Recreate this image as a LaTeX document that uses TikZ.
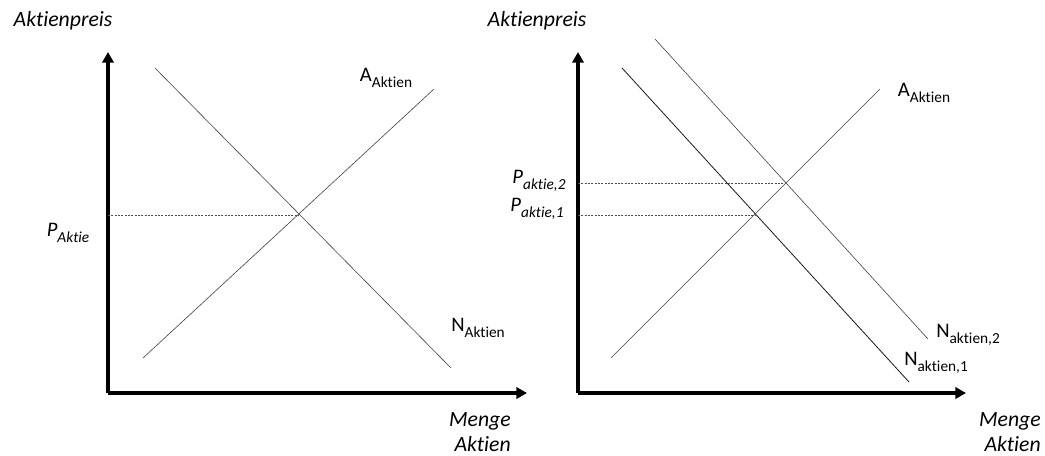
\documentclass[tikz,border=0pt]{standalone}
\usepackage{fontspec}
\setmainfont{Carlito}[Ligatures=NoCommon]
\usetikzlibrary{arrows.meta}
\newcommand\sbsc[1]{\raisebox{-0.28em}{\fontsize{11.5}{12}\selectfont #1}}
\begin{document}
\begin{tikzpicture}[x=0.75pt,y=-0.75pt,
  axisline/.style={line width=2.8pt,-{Triangle[length=8pt,width=8.5pt]}},
  curve/.style={line width=0.45pt,draw=black!75},
  curvedark/.style={line width=0.6pt,draw=black!90},
  guide/.style={line width=0.4pt,draw=black!70,dash pattern=on 1.5pt off 1pt},
  ttl/.style={font=\fontsize{16.3}{18}\selectfont\itshape,inner sep=0pt},
  lbl/.style={font=\fontsize{15.5}{17}\selectfont,inner sep=0pt}]
\useasboundingbox (0,0) rectangle (1045,455);
% ---------- left panel ----------
\coordinate (O1) at (108,393);
\coordinate (Y1) at (108,52);
\coordinate (X1) at (527,393);
\draw[axisline] (O1) -- (Y1);
\draw[axisline] (O1) -- (X1);
\coordinate (n1s) at (155,68);
\coordinate (n1e) at (451,368);
\coordinate (a1s) at (143,358);
\coordinate (a1e) at (434,89);
\draw[curve] (n1s) -- (n1e);
\draw[curve] (a1s) -- (a1e);
\coordinate (e1) at (299,215);
\coordinate (p1ax) at (108,215);
\draw[guide] (p1ax) -- (e1);
\node[ttl] (t1) at (63,21) {Aktienpreis};
\node[ttl,align=right,anchor=east] (m1) at (511,432) {Menge\\[1pt]Aktien};
\node[lbl] (pA) at (68,233) {\itshape P\sbsc{Aktie}};
\node[lbl] (AA1) at (386,78) {A\sbsc{Aktien}};
\node[lbl] (NA1) at (478,328) {N\sbsc{Aktien}};
% ---------- right panel ----------
\coordinate (O2) at (578,393);
\coordinate (Y2) at (578,52);
\coordinate (X2) at (966,393);
\draw[axisline] (O2) -- (Y2);
\draw[axisline] (O2) -- (X2);
\coordinate (d1s) at (622,68);
\coordinate (d1e) at (909,382);
\coordinate (d2s) at (655,39);
\coordinate (d2e) at (928,339);
\coordinate (a2s) at (611,358);
\coordinate (a2e) at (880,89);
\draw[curvedark] (d1s) -- (d1e);
\draw[curve] (d2s) -- (d2e);
\draw[curve] (a2s) -- (a2e);
\coordinate (e21) at (755,215);
\coordinate (e22) at (786,183);
\coordinate (q1) at (578,215);
\coordinate (q2) at (578,183);
\draw[guide] (q1) -- (e21);
\draw[guide] (q2) -- (e22);
\node[ttl] (t2) at (537,21) {Aktienpreis};
\node[ttl,align=right,anchor=east] (m2) at (1041,432) {Menge\\[1pt]Aktien};
\node[lbl] (pa2) at (539,181) {\itshape P\sbsc{aktie,2}};
\node[lbl] (pa1) at (537,209) {\itshape P\sbsc{aktie,1}};
\node[lbl] (AA2) at (924,93) {A\sbsc{Aktien}};
\node[lbl] (N2) at (968,335) {N\sbsc{aktien,2}};
\node[lbl] (N1) at (936,363) {N\sbsc{aktien,1}};
\end{tikzpicture}
\end{document}
